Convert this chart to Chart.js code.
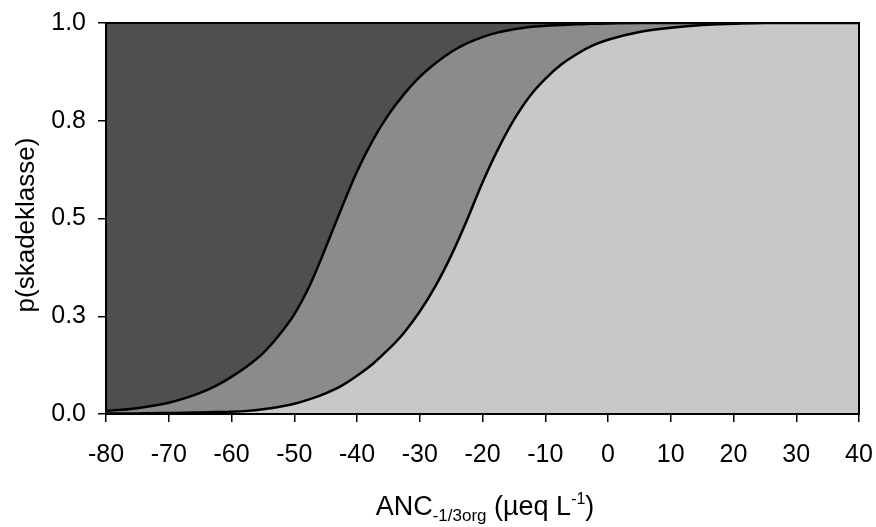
<!DOCTYPE html>
<html>
<head>
<meta charset="utf-8">
<script src="https://cdn.jsdelivr.net/npm/chart.js@4.4.0/dist/chart.umd.min.js"></script>
<style>
  body { margin: 0; background: #fff; }
  #wrap { width: 876px; height: 527px; }
</style>
</head>
<body>
<div id="wrap"><canvas id="c" width="876" height="527"></canvas></div>
<script>
// ANC values (x axis)
var anc = [-80, -77.5, -75, -72.5, -70, -67.5, -65, -62.5, -60, -57.5, -55, -52.5, -50, -47.5, -45, -42.5,
           -40, -37.5, -35, -32.5, -30, -27.5, -25, -22.5, -20, -17.5, -15, -12.5, -10, -7.5, -5, -2.5,
           0, 5, 10, 15, 20, 25, 30, 35, 40];
// probability curves
var pUpper = [0.008, 0.011, 0.015, 0.021, 0.029, 0.040, 0.054, 0.072, 0.095, 0.122, 0.155, 0.20, 0.255, 0.33, 0.425, 0.525,
              0.62, 0.70, 0.765, 0.818, 0.862, 0.897, 0.926, 0.948, 0.964, 0.976, 0.984, 0.99, 0.993, 0.995, 0.997, 0.998,
              0.999, 1, 1, 1, 1, 1, 1, 1, 1];
var pLower = [0.001, 0.001, 0.0015, 0.002, 0.0025, 0.003, 0.004, 0.005, 0.006, 0.008, 0.012, 0.018, 0.026, 0.038, 0.053, 0.072,
              0.098, 0.128, 0.165, 0.208, 0.262, 0.327, 0.405, 0.495, 0.592, 0.678, 0.752, 0.812, 0.857, 0.893, 0.92, 0.942,
              0.957, 0.977, 0.988, 0.995, 0.998, 1, 1, 1, 1];
var xTicks = [-80, -70, -60, -50, -40, -30, -20, -10, 0, 10, 20, 30, 40];
var yTicks = [0, 0.25, 0.5, 0.75, 1];

var FONT = "'Liberation Sans', Arial, Helvetica, sans-serif";

function pts(ys) {
  var out = [];
  for (var i = 0; i < anc.length; i++) out.push({x: anc[i], y: ys[i]});
  return out;
}

// dark background in the plot, frame and axis titles
var decor = {
  id: 'decor',
  beforeDatasetsDraw: function (chart) {
    var a = chart.chartArea, ctx = chart.ctx;
    ctx.save();
    ctx.fillStyle = '#4f4f4f';
    ctx.fillRect(a.left, a.top, a.right - a.left, a.bottom - a.top);
    ctx.restore();
  },
  afterDraw: function (chart) {
    var a = chart.chartArea, ctx = chart.ctx;
    ctx.save();
    ctx.strokeStyle = '#000';
    ctx.lineWidth = 2;
    ctx.strokeRect(a.left, a.top, a.right - a.left, a.bottom - a.top);

    // y title
    ctx.fillStyle = '#000';
    ctx.translate(27, 225);
    ctx.rotate(-Math.PI / 2);
    ctx.font = '26px ' + FONT;
    ctx.textAlign = 'center';
    ctx.textBaseline = 'middle';
    ctx.fillText('p(skadeklasse)', 0, 0);
    ctx.restore();

    // x title with sub/superscript
    ctx.save();
    ctx.fillStyle = '#000';
    ctx.textBaseline = 'alphabetic';
    ctx.textAlign = 'left';
    var parts = [
      {t: 'ANC', s: 27, dy: 0},
      {t: '-1/3org', s: 17, dy: 6},
      {t: ' (\u00b5eq L', s: 27, dy: 0},
      {t: '-1', s: 16, dy: -11},
      {t: ')', s: 27, dy: 0}
    ];
    var w = 0;
    parts.forEach(function (p) { ctx.font = p.s + 'px ' + FONT; p.w = ctx.measureText(p.t).width; w += p.w; });
    var x = 485 - w / 2, base = 515;
    parts.forEach(function (p) {
      ctx.font = p.s + 'px ' + FONT;
      ctx.fillText(p.t, x, base + p.dy);
      x += p.w;
    });
    ctx.restore();
  }
};

new Chart(document.getElementById('c'), {
  type: 'line',
  data: {
    datasets: [
      {
        data: pts(pUpper),
        order: 1,
        borderColor: '#000',
        borderWidth: 2.5,
        pointRadius: 0,
        cubicInterpolationMode: 'monotone',
        fill: '+1',
        backgroundColor: '#8b8b8b'
      },
      {
        data: pts(pLower),
        order: 0,
        borderColor: '#000',
        borderWidth: 2.5,
        pointRadius: 0,
        cubicInterpolationMode: 'monotone',
        fill: 'origin',
        backgroundColor: '#c8c8c8'
      }
    ]
  },
  options: {
    responsive: false,
    animation: false,
    layout: { padding: { top: 23, right: 17, left: 0, bottom: 0 } },
    plugins: { legend: { display: false }, tooltip: { enabled: false } },
    scales: {
      x: {
        type: 'linear',
        min: -80, max: 40,
        afterBuildTicks: function (s) { s.ticks = xTicks.map(function (v) { return {value: v}; }); },
        afterFit: function (s) { s.height = 113; s.paddingLeft = 0; s.paddingRight = 0; },
        grid: { drawOnChartArea: false, drawTicks: true, tickLength: 8, color: '#000', lineWidth: 1.5 },
        border: { display: true, color: '#000', width: 2 },
        ticks: { color: '#000', padding: 18, maxRotation: 0, font: { family: FONT, size: 25 } }
      },
      y: {
        min: 0, max: 1,
        afterBuildTicks: function (s) { s.ticks = yTicks.map(function (v) { return {value: v}; }); },
        afterFit: function (s) { s.width = 106; s.paddingTop = 0; s.paddingBottom = 0; },
        grid: { drawOnChartArea: false, drawTicks: true, tickLength: 8, color: '#000', lineWidth: 1.5 },
        border: { display: true, color: '#000', width: 2 },
        ticks: {
          color: '#000', padding: 12, font: { family: FONT, size: 25 },
          callback: function (v) { return v.toFixed(1); }
        }
      }
    }
  },
  plugins: [decor]
});
</script>
</body>
</html>
